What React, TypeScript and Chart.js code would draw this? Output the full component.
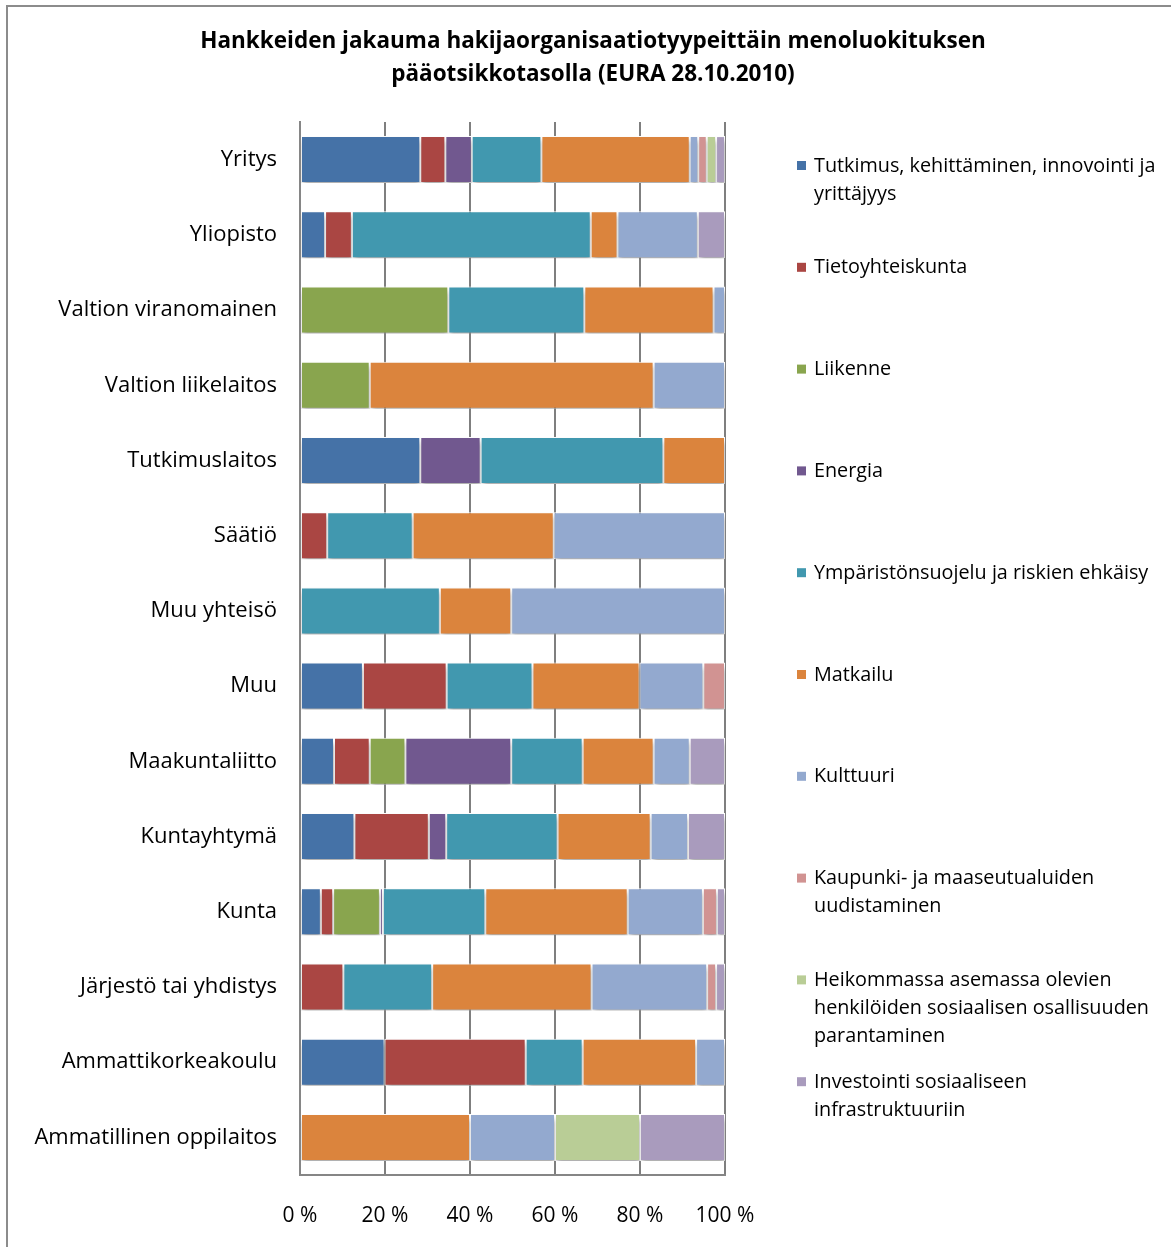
import React, { useEffect, useRef } from "react";
import { Chart, registerables } from "chart.js";

Chart.register(...registerables);

const titleLines = [
  "Hankkeiden jakauma hakijaorganisaatiotyypeittäin menoluokituksen",
  "pääotsikkotasolla (EURA 28.10.2010)",
];

const categories = [
  "Yritys",
  "Yliopisto",
  "Valtion viranomainen",
  "Valtion liikelaitos",
  "Tutkimuslaitos",
  "Säätiö",
  "Muu yhteisö",
  "Muu",
  "Maakuntaliitto",
  "Kuntayhtymä",
  "Kunta",
  "Järjestö tai yhdistys",
  "Ammattikorkeakoulu",
  "Ammatillinen oppilaitos",
];

const seriesNames = [
  "Tutkimus, kehittäminen, innovointi ja yrittäjyys",
  "Tietoyhteiskunta",
  "Liikenne",
  "Energia",
  "Ympäristönsuojelu ja riskien ehkäisy",
  "Matkailu",
  "Kulttuuri",
  "Kaupunki- ja maaseutualuiden uudistaminen",
  "Heikommassa asemassa olevien henkilöiden sosiaalisen osallisuuden parantaminen",
  "Investointi sosiaaliseen infrastruktuuriin",
];

const legendLines = [
  ["Tutkimus, kehittäminen, innovointi ja", "yrittäjyys"],
  ["Tietoyhteiskunta"],
  ["Liikenne"],
  ["Energia"],
  ["Ympäristönsuojelu ja riskien ehkäisy"],
  ["Matkailu"],
  ["Kulttuuri"],
  ["Kaupunki- ja maaseutualuiden", "uudistaminen"],
  ["Heikommassa asemassa olevien", "henkilöiden sosiaalisen osallisuuden", "parantaminen"],
  ["Investointi sosiaaliseen", "infrastruktuuriin"],
];

const seriesColors = [
  "#4572A7",
  "#AA4643",
  "#89A54E",
  "#71588F",
  "#4198AF",
  "#DB843D",
  "#93A9CF",
  "#D19392",
  "#B9CD96",
  "#A99BBD",
];

const tutkimus = [28.3, 5.9, 0, 0, 28.3, 0, 0, 14.8, 8.0, 12.8, 4.9, 0, 19.9, 0];
const tietoyhteiskunta = [5.9, 6.3, 0, 0, 0, 6.4, 0, 19.7, 8.4, 17.5, 2.9, 10.2, 33.2, 0];
const liikenne = [0, 0, 34.9, 16.4, 0, 0, 0, 0, 8.4, 0, 11.0, 0, 0, 0];
const energia = [6.2, 0, 0, 0, 14.2, 0, 0, 0, 24.9, 4.1, 0.7, 0, 0, 0];
const ymparisto = [16.4, 56.2, 32.0, 0, 43.0, 20.1, 32.9, 20.2, 16.8, 26.2, 24.1, 20.9, 13.4, 0];
const matkailu = [34.9, 6.3, 30.4, 66.8, 14.5, 33.2, 16.8, 25.2, 16.7, 21.9, 33.5, 37.5, 26.7, 40];
const kulttuuri = [2.0, 18.9, 2.7, 16.8, 0, 40.3, 50.3, 15.0, 8.5, 8.8, 17.7, 27.2, 6.8, 20];
const kaupunki = [2.0, 0, 0, 0, 0, 0, 0, 5.1, 0, 0, 3.3, 2.1, 0, 0];
const heikommassa = [2.2, 0, 0, 0, 0, 0, 0, 0, 0, 0, 0, 0, 0, 20];
const investointi = [2.1, 6.4, 0, 0, 0, 0, 0, 0, 8.3, 8.7, 1.9, 2.1, 0, 20];

const seriesValues = [
  tutkimus,
  tietoyhteiskunta,
  liikenne,
  energia,
  ymparisto,
  matkailu,
  kulttuuri,
  kaupunki,
  heikommassa,
  investointi,
];

const FONT = "'Open Sans', sans-serif";

const frameAndTitle = {
  id: "frameAndTitle",
  beforeDraw(chart: any) {
    const ctx = chart.ctx;
    ctx.save();
    ctx.fillStyle = "#ffffff";
    ctx.fillRect(0, 0, chart.width, chart.height);
    ctx.strokeStyle = "#8c8c8c";
    ctx.lineWidth = 2;
    ctx.beginPath();
    ctx.moveTo(7, chart.height);
    ctx.lineTo(7, 6);
    ctx.lineTo(chart.width, 6);
    ctx.stroke();
    ctx.fillStyle = "#000000";
    ctx.font = `bold 22.5px ${FONT}`;
    ctx.textAlign = "center";
    ctx.textBaseline = "middle";
    titleLines.forEach((line, i) => {
      ctx.fillText(line, 593, 42 + i * 33);
    });
    ctx.restore();
  },
};

const barShadow = {
  id: "barShadow",
  beforeDatasetsDraw(chart: any) {
    const ctx = chart.ctx;
    ctx.save();
    ctx.shadowColor = "rgba(0,0,0,0.35)";
    ctx.shadowBlur = 5;
    ctx.shadowOffsetX = 1;
    ctx.shadowOffsetY = 4;
  },
  afterDatasetsDraw(chart: any) {
    chart.ctx.restore();
  },
};

const sideLegend = {
  id: "sideLegend",
  afterDraw(chart: any) {
    const ctx = chart.ctx;
    ctx.save();
    ctx.font = `19.8px ${FONT}`;
    ctx.textBaseline = "middle";
    ctx.textAlign = "left";
    const startY = 166;
    const step = 101.8;
    const lineH = 28;
    chart.data.datasets.forEach((ds: any, i: number) => {
      const y = startY + i * step;
      ctx.fillStyle = ds.backgroundColor;
      ctx.fillRect(797, y - 5, 9, 9);
      ctx.fillStyle = "#000000";
      legendLines[i].forEach((line, j) => {
        ctx.fillText(line, 814, y + j * lineH);
      });
    });
    ctx.restore();
  },
};

export default function App() {
  const canvasRef = useRef<HTMLCanvasElement | null>(null);

  useEffect(() => {
    const canvas = canvasRef.current;
    if (!canvas) return;
    const chart = new Chart(canvas, {
      type: "bar",
      data: {
        labels: categories,
        datasets: seriesNames.map((name, i) => ({
          label: name,
          data: seriesValues[i],
          backgroundColor: seriesColors[i],
          borderColor: "#ffffff",
          borderWidth: 1,
          borderSkipped: false,
          barPercentage: 0.625,
          categoryPercentage: 1,
        })),
      },
      options: {
        indexAxis: "y",
        animation: false,
        responsive: false,
        maintainAspectRatio: false,
        layout: { padding: { left: 0, right: 446, top: 122, bottom: 22 } },
        plugins: {
          legend: { display: false },
          tooltip: { enabled: false },
          title: { display: false },
        },
        scales: {
          x: {
            stacked: true,
            min: 0,
            max: 100,
            afterFit(scale: any) {
              scale.height = 50;
            },
            ticks: {
              stepSize: 20,
              callback: (v: any) => `${v} %`,
              color: "#000000",
              font: { family: FONT, size: 21 },
              padding: 28,
              maxRotation: 0,
            },
            grid: { display: true, color: "#7f7f7f", lineWidth: 2, drawTicks: false },
            border: { display: true, color: "#868686", width: 2 },
          },
          y: {
            stacked: true,
            afterFit(scale: any) {
              scale.width = 300;
            },
            ticks: {
              color: "#000000",
              font: { family: FONT, size: 22 },
              padding: 23,
            },
            grid: { display: false, drawTicks: false },
            border: { display: true, color: "#868686", width: 2 },
          },
        },
      },
      plugins: [frameAndTitle, barShadow, sideLegend],
    } as any);
    return () => chart.destroy();
  }, []);

  return (
    <div style={{ position: "absolute", left: 0, top: 0, width: 1171, height: 1247 }}>
      <canvas ref={canvasRef} width={1171} height={1247} />
    </div>
  );
}
